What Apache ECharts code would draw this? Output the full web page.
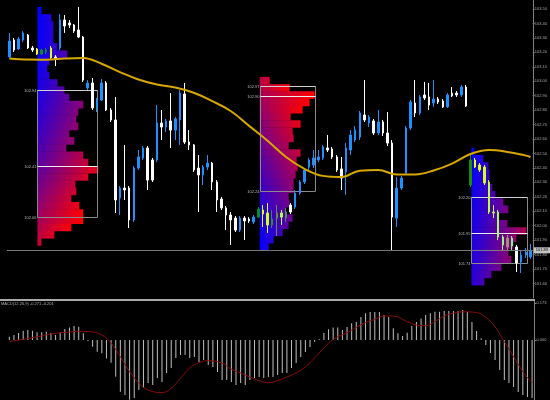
<!DOCTYPE html>
<html><head><meta charset="utf-8">
<script src="https://cdn.jsdelivr.net/npm/echarts@6/dist/echarts.min.js"></script>
<style>html,body{margin:0;padding:0;background:#000;}#c{width:550px;height:400px;}</style>
</head><body><div id="c"></div>
<script>
// ---------- DATA ----------
const open = [103.168,103.285,103.223,103.285,103.320,103.230,103.223,103.188,103.202,103.230,
103.168,103.230,103.424,103.403,103.389,103.354,103.306,102.953,102.988,102.815,
102.870,102.988,102.801,102.732,102.192,102.261,102.261,102.040,102.399,102.469,
102.538,102.455,102.455,102.711,102.683,102.725,102.662,102.732,102.912,102.579,
102.559,102.399,102.351,102.406,102.434,102.303,102.185,102.123,102.074,102.053,
101.970,102.053,102.046,102.026,102.060,102.109,102.088,102.005,102.053,102.088,
102.053,102.143,102.130,102.226,102.303,102.406,102.420,102.455,102.469,102.538,
102.531,102.476,102.393,102.372,102.524,102.593,102.614,102.766,102.711,102.725,
102.642,102.718,102.642,102.572,102.053,102.261,102.365,102.676,102.849,102.780,
102.905,102.891,102.849,102.877,102.863,102.822,102.918,102.918,102.905,102.960,
102.282,102.455,102.420,102.406,102.303,102.095,102.095,101.922,101.853,101.915,
101.853,101.749,101.797,101.784];
const close = [103.278,103.216,103.292,103.334,103.230,103.216,103.188,103.216,103.216,103.161,
103.154,103.424,103.382,103.389,103.347,103.306,103.008,102.988,102.815,102.870,
102.988,102.801,102.732,102.178,102.261,102.247,102.040,102.399,102.476,102.538,
102.316,102.316,102.711,102.683,102.725,102.662,102.739,102.918,102.579,102.559,
102.386,102.351,102.406,102.434,102.303,102.178,102.123,102.074,102.040,101.970,
102.053,102.033,102.033,102.060,102.116,102.081,102.005,102.046,102.088,102.060,
102.095,102.095,102.226,102.303,102.386,102.455,102.469,102.476,102.545,102.524,
102.476,102.386,102.330,102.538,102.628,102.662,102.780,102.732,102.752,102.642,
102.718,102.642,102.572,102.060,102.261,102.330,102.676,102.856,102.780,102.891,
102.884,102.835,102.877,102.856,102.822,102.905,102.898,102.905,102.960,102.828,
102.455,102.406,102.386,102.296,102.095,102.088,101.922,101.867,101.915,101.860,
101.742,101.797,101.818,101.825];
const high = [103.334,103.299,103.306,103.347,103.327,103.244,103.230,103.223,103.230,103.244,
103.181,103.465,103.458,103.424,103.396,103.514,103.313,103.008,103.022,102.884,
103.015,103.001,102.815,102.891,102.275,102.559,102.275,102.413,102.524,102.552,
102.552,102.469,102.835,102.801,102.739,102.918,102.752,102.939,102.988,102.662,
102.565,102.489,102.420,102.489,102.441,102.316,102.199,102.136,102.095,102.067,
102.067,102.067,102.060,102.074,102.130,102.143,102.157,102.109,102.143,102.109,
102.123,102.157,102.247,102.316,102.399,102.469,102.524,102.524,102.559,102.628,
102.545,102.489,102.476,102.572,102.662,102.690,102.794,103.008,102.766,102.739,
102.801,102.732,102.787,102.593,102.337,102.344,102.690,102.870,103.008,102.905,
102.995,102.988,103.008,102.891,102.877,102.918,102.960,102.932,102.974,102.974,
102.489,102.469,102.434,102.420,102.316,102.143,102.109,101.936,101.936,101.929,
101.867,101.832,101.846,101.874];
const low = [103.161,103.202,103.216,103.271,103.223,103.202,103.181,103.181,103.188,103.147,
103.105,103.216,103.334,103.368,103.334,103.299,102.995,102.939,102.801,102.787,
102.863,102.794,102.718,102.088,102.074,102.178,101.984,102.026,102.386,102.455,
102.247,102.303,102.441,102.593,102.649,102.538,102.593,102.559,102.565,102.524,
102.372,102.095,102.282,102.386,102.247,102.095,102.109,101.970,101.867,101.957,
101.957,101.901,102.019,102.012,102.053,101.991,101.950,101.984,101.929,102.005,
102.026,102.081,102.116,102.213,102.289,102.386,102.399,102.441,102.455,102.510,
102.462,102.372,102.247,102.213,102.489,102.579,102.593,102.718,102.683,102.628,
102.628,102.621,102.552,101.832,101.991,102.247,102.351,102.662,102.752,102.766,
102.870,102.801,102.822,102.842,102.815,102.815,102.891,102.891,102.891,102.822,
102.268,102.399,102.372,102.282,102.081,102.053,101.901,101.832,101.832,101.832,
101.680,101.673,101.777,101.770];
const categories = open.map((_, i) => 'H' + (i + 1));

// moving average, read at selected bars
const maIdx = [0,4,8,12,16,20,24,28,32,36,40,44,48,52,56,60,64,68,72,76,80,84,88,92,96,100,104,108,112,113];
const maVal = [103.157,103.150,103.149,103.157,103.161,103.121,103.063,103.012,102.977,102.956,102.920,102.862,102.794,102.691,102.588,102.476,102.394,102.345,102.337,102.381,102.386,102.354,102.355,102.382,102.430,102.496,102.524,102.511,102.485,102.476];

// MACD main (histogram) per bar
const macdHist = [0.015,0.023,0.033,0.043,0.047,0.043,0.036,0.036,0.039,0.034,
0.023,0.034,0.051,0.059,0.065,0.062,0.031,-0.005,-0.031,-0.055,
-0.062,-0.086,-0.106,-0.172,-0.242,-0.257,-0.279,-0.271,-0.234,-0.224,
-0.201,-0.210,-0.178,-0.196,-0.154,-0.131,-0.084,-0.070,-0.070,-0.084,
-0.079,-0.103,-0.094,-0.117,-0.126,-0.150,-0.187,-0.187,-0.196,-0.210,
-0.201,-0.210,-0.187,-0.178,-0.173,-0.178,-0.173,-0.173,-0.164,-0.154,
-0.154,-0.131,-0.108,-0.079,-0.056,-0.033,-0.009,0.003,0.033,0.050,
0.059,0.059,0.047,0.061,0.078,0.084,0.108,0.125,0.131,0.131,
0.131,0.117,0.108,0.055,0.031,0.019,0.034,0.065,0.084,0.101,
0.117,0.125,0.132,0.132,0.136,0.136,0.136,0.136,0.140,0.131,
0.084,0.042,0.008,-0.023,-0.061,-0.094,-0.140,-0.187,-0.201,-0.220,
-0.243,-0.257,-0.267,-0.271];
// MACD signal, read at selected bars
const sigIdx = [0,2,4,7,9,11,13,15,17,20,22,24,26,28,30,33,35,37,39,41,43,46,48,50,52,54,56,58,60,62,64,66,68,70,73,75,77,79,81,83,86,88,90,92,94,96,98,101,103,105,107,109,111,113];
const sigVal = [-0.008,0.000,0.007,0.019,0.028,0.034,0.037,0.041,0.040,0.023,-0.015,-0.078,-0.148,-0.201,-0.234,-0.246,-0.226,-0.178,-0.131,-0.106,-0.097,-0.108,-0.136,-0.154,-0.173,-0.190,-0.200,-0.190,-0.173,-0.154,-0.126,-0.084,-0.037,0.003,0.034,0.059,0.081,0.097,0.112,0.112,0.086,0.070,0.067,0.086,0.112,0.125,0.132,0.128,0.106,0.062,-0.008,-0.078,-0.148,-0.201];

// volume profiles (rows from top price downward, step 0.05)
const profileStart = [6.1, 54.3, 100.2];     // bar index where profile begins
const profileSpan = [13, 12, 12];            // bars covered by value-area box
const profileTop = [103.514, 103.03, 102.54];
const profileStep = 0.05;
const profileVAH = [102.94, 102.97, 102.20];
const profilePOC = [102.41, 102.90, 101.95];
const profileVAL = [102.06, 102.24, 101.74];
const vols1 = [4,14,16,16,16,20,30,12,10,12,20,27,32,46,41,39,41,32,37,29,46,51,61,51,38,39,34,42,46,46,34,17,4];
const vols2 = [10,30,55,50,43,31,41,33,34,29,41,37,38,36,34,34,29,30,26,33,29,23,14,9];
const vols3 = [3,12,17,18,18,21,24,32,37,28,36,55,45,42,37,40,30,20,13];
const profileVols = [vols1, vols2, vols3];

const macdTicks = [0, 0.173];
const priceTicks = [101.6,101.7,101.8,101.9,102.0,102.1,102.2,102.3,102.4,102.5,102.6,102.7,102.8,102.9,103.0,103.1,103.2,103.3,103.4,103.5];

// ---------- STYLE / LAYOUT ----------
const GL = 7, GW = 527.4, N = open.length;
const MAIN_H = 298, Y_MIN = 101.5, Y_MAX = 103.562;
const BULL = '#1e90ff', BEAR = '#ffffff';
const volBars = 0.2162; // bar-widths per volume unit
// time colouring of each profile: left colour from row position (s*u^p), shifting red along the row (a per px)
const grads = [{s:0.8,p:2,a:0.009,up:false},{s:0.75,p:1.2,a:0.010,up:true},{s:0.15,p:1,a:0.011,up:false}];
const band = GW / N;
const pxX = i => GL + (i + 0.5) * band;
const pxY = v => (Y_MAX - v) / (Y_MAX - Y_MIN) * MAIN_H;

function rowLeftT(pi, k) {
  const g = grads[pi], n = profileVols[pi].length;
  let u = (k + 0.5) / n;
  if (g.up) u = 1 - u;
  return g.s * Math.pow(u, g.p);
}
function tColor(t) {
  t = Math.max(0, Math.min(1, t));
  return [Math.round(255 * t), 0, Math.round(255 * (1 - t))];
}
function hex(c){return '#'+c.map(v=>v.toString(16).padStart(2,'0')).join('');}
function xorColor(base, t) {
  const r = parseInt(base.slice(1,3),16), g = parseInt(base.slice(3,5),16), b = parseInt(base.slice(5,7),16);
  const p = tColor(t);
  return hex([r ^ p[0], g ^ p[1], b ^ p[2]]);
}
const candleData = open.map((o, i) => {
  const c = close[i];
  const item = { value: [o, c, low[i], high[i]] };
  const mid = (o + c) / 2, cx = pxX(i);
  for (let pi = 0; pi < 3; pi++) {
    const k = Math.floor((profileTop[pi] - mid) / profileStep);
    const vols = profileVols[pi];
    if (k < 0 || k >= vols.length) continue;
    const xs = pxX(0) + profileStart[pi] * band;
    const xe = xs + vols[k] * volBars * band;
    if (cx + 1.5 >= xs && cx <= xe) {
      const t = rowLeftT(pi, k) + grads[pi].a * (cx - xs);
      const col = xorColor(c >= o ? BULL : BEAR, t);
      item.itemStyle = { color: col, color0: col, borderColor: col, borderColor0: col };
    }
  }
  return item;
});

const maData = new Array(N).fill(null);
maIdx.forEach((ix, j) => maData[ix] = maVal[j]);
const sigData = new Array(N).fill(null);
sigIdx.forEach((ix, j) => sigData[ix] = sigVal[j]);

const profRows = [];
profileVols.forEach((vols, pi) => vols.forEach((v, k) => profRows.push([Math.round(profileStart[pi]), profileTop[pi] - (k + 0.5) * profileStep, pi, k])));

function renderRow(params, api) {
  const pi = api.value(2), k = api.value(3);
  const bw = api.size([1, 0])[0];
  const c0 = api.coord([0, profileTop[pi]]);
  const x0 = c0[0] + profileStart[pi] * bw;
  const yT = api.coord([0, profileTop[pi] - k * profileStep])[1];
  const yB = api.coord([0, profileTop[pi] - (k + 1) * profileStep])[1];
  const w = profileVols[pi][k] * volBars * bw;
  const tl = rowLeftT(pi, k), tr = tl + grads[pi].a * w;
  const fill = new echarts.graphic.LinearGradient(0, 0, 1, 0,
    [{offset: 0, color: hex(tColor(tl))}, {offset: 1, color: hex(tColor(tr))}]);
  return {type: 'rect', shape: {x: x0, y: yT, width: w, height: yB - yT + 0.4}, style: {fill: fill}};
}
function renderBox(params, api) {
  const pi = api.value(2);
  const bw = api.size([1, 0])[0];
  const c0 = api.coord([0, profileVAH[pi]]);
  const xL = Math.round(c0[0] + profileStart[pi] * bw) + 0.5;
  const xR = Math.round(c0[0] + (profileStart[pi] + profileSpan[pi]) * bw) + 0.5;
  const yT = Math.round(c0[1]) + 0.5;
  const yB = Math.round(api.coord([0, profileVAL[pi]])[1]) + 0.5;
  const yP = Math.round(api.coord([0, profilePOC[pi]])[1]) + 0.5;
  const lab = (v, y) => ({type: 'text', style: {text: v.toFixed(2), x: xL - 1, y: y, align: 'right', verticalAlign: 'middle', fill: '#b8b8b8', font: '4px "Liberation Sans"'}});
  return {type: 'group', children: [
    {type: 'rect', shape: {x: xL, y: yT, width: xR - xL, height: yB - yT}, style: {fill: 'transparent', stroke: '#8a8a8a', lineWidth: 1}},
    {type: 'line', shape: {x1: xL, y1: yT, x2: xR, y2: yT}, style: {stroke: '#d0d0d0', lineWidth: 1}},
    {type: 'line', shape: {x1: xL, y1: yP, x2: xR, y2: yP}, style: {stroke: '#ececec', lineWidth: 1}},
    lab(profileVAH[pi], yT), lab(profilePOC[pi], yP), lab(profileVAL[pi], yB)
  ]};
}

const lastClose = close[N - 1];
const lastSig = sigVal[sigVal.length - 1];
const chart = echarts.init(document.getElementById('c'), null, {width: 550, height: 400});
const axisGray = '#808080';
chart.setOption({
  backgroundColor: '#000',
  animation: false,
  title: {text: 'MACD(12,26,9) ' + macdHist[N - 1].toFixed(3) + ' ' + lastSig.toFixed(3), left: 1, top: 302, padding: 0,
    textStyle: {fontSize: 4, color: '#b0b0b0', fontWeight: 'normal', fontFamily: 'Liberation Sans'}},
  graphic: [{type: 'line', shape: {x1: 0, y1: 300, x2: 535, y2: 300}, style: {stroke: '#a8a8a8', lineWidth: 2}, z: 10}],
  grid: [
    {left: GL, width: GW, top: 0, height: MAIN_H},
    {left: GL, width: GW, top: 301, height: 99}
  ],
  xAxis: [
    {type: 'category', data: categories, gridIndex: 0, show: false, boundaryGap: true},
    {type: 'category', data: categories, gridIndex: 1, show: false, boundaryGap: true}
  ],
  yAxis: [
    {type: 'value', gridIndex: 0, position: 'right', min: Y_MIN, max: Y_MAX, scale: true,
      splitLine: {show: false},
      axisLine: {show: true, lineStyle: {color: axisGray}},
      axisTick: {show: true, length: 2, lineStyle: {color: axisGray}, customValues: priceTicks},
      axisLabel: {show: true, customValues: priceTicks, margin: 2, fontSize: 4, color: '#a8a8a8', fontFamily: 'Liberation Sans', formatter: v => v.toFixed(2)}},
    {type: 'value', gridIndex: 1, position: 'right', min: -0.2805, max: 0.1823,
      splitLine: {show: false},
      axisLine: {show: true, lineStyle: {color: axisGray}},
      axisTick: {show: true, length: 2, lineStyle: {color: axisGray}, customValues: macdTicks},
      axisLabel: {show: true, customValues: macdTicks, margin: 2, fontSize: 4, color: '#a8a8a8', fontFamily: 'Liberation Sans', formatter: v => v.toFixed(3)}}
  ],
  series: [
    {type: 'custom', name: 'profile', xAxisIndex: 0, yAxisIndex: 0, data: profRows, renderItem: renderRow, z: 1, silent: true},
    {type: 'custom', name: 'box', xAxisIndex: 0, yAxisIndex: 0,
      data: profilePOC.map((p, i) => [Math.round(profileStart[i]), p, i]), renderItem: renderBox, z: 2, silent: true},
    {type: 'candlestick', name: 'price', xAxisIndex: 0, yAxisIndex: 0, data: candleData, z: 3, barWidth: 2,
      itemStyle: {color: BULL, color0: BEAR, borderColor: BULL, borderColor0: BEAR, borderWidth: 1},
      markLine: {silent: true, symbol: 'none', animation: false,
        lineStyle: {color: '#7a7a7a', width: 1, type: 'solid'},
        label: {show: true, position: 'end', distance: 1, formatter: lastClose.toFixed(2), fontSize: 4, fontFamily: 'Liberation Sans',
          color: '#000', backgroundColor: '#c4c4c4', padding: [1, 2]},
        data: [{yAxis: lastClose}]}},
    {type: 'line', name: 'MA', xAxisIndex: 0, yAxisIndex: 0, data: maData, connectNulls: true, smooth: 0.4, showSymbol: false,
      lineStyle: {color: '#d8a800', width: 2}, z: 4, silent: true},
    {type: 'bar', name: 'MACD', xAxisIndex: 1, yAxisIndex: 1, data: macdHist, barWidth: 1, itemStyle: {color: '#c0c0c0'}, silent: true},
    {type: 'line', name: 'Signal', xAxisIndex: 1, yAxisIndex: 1, data: sigData, connectNulls: true, smooth: 0.4, showSymbol: false,
      lineStyle: {color: '#8b0a0a', width: 1}, z: 5, silent: true}
  ]
});
</script></body></html>
